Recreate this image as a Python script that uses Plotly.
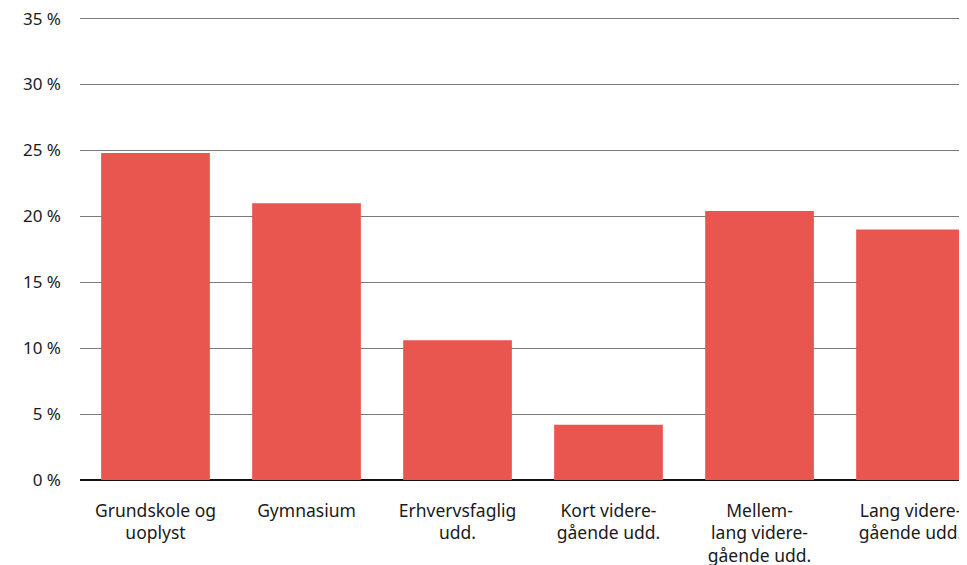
import plotly.graph_objects as go

categories = [
    "Grundskole og<br>uoplyst",
    "Gymnasium",
    "Erhvervsfaglig<br>udd.",
    "Kort videre-<br>gående udd.",
    "Mellem-<br>lang videre-<br>gående udd.",
    "Lang videre-<br>gående udd.",
]
values = [24.8, 21.0, 10.6, 4.2, 20.4, 19.0]
y_ticks = [0, 5, 10, 15, 20, 25, 30, 35]
y_tick_labels = [f"{v} %" for v in y_ticks]

fig = go.Figure(
    go.Bar(
        x=list(range(len(categories))),
        y=values,
        marker=dict(color="#E95650", line=dict(width=0)),
        hoverinfo="skip",
    )
)

fig.update_layout(
    width=967,
    height=565,
    margin=dict(l=72, r=0, t=4, b=93, autoexpand=False),
    plot_bgcolor="white",
    paper_bgcolor="white",
    bargap=0.28,
    showlegend=False,
    font=dict(family="Noto Sans, sans-serif", size=17.5, color="#1a1a1a"),
)
fig.update_xaxes(
    tickmode="array",
    tickvals=list(range(len(categories))),
    ticktext=categories,
    range=[-0.5, 5.427],
    showgrid=False,
    zeroline=False,
    showline=False,
    ticks="",
    ticklabelstandoff=18,
    ticklabeloverflow="allow",
    automargin=False,
)
fig.update_yaxes(
    range=[0, 35.5],
    tickmode="array",
    tickvals=y_ticks,
    ticktext=y_tick_labels,
    showgrid=True,
    gridcolor="#7a7a7a",
    gridwidth=1,
    zeroline=True,
    zerolinecolor="#111111",
    zerolinewidth=1.5,
    showline=False,
    ticks="",
    ticklabelstandoff=18,
    ticklabeloverflow="allow",
    automargin=False,
    tickfont=dict(size=17),
)

fig.write_html("out.html")
